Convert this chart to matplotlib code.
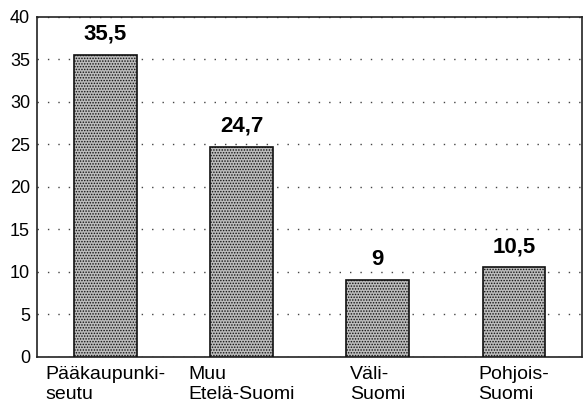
import numpy as np
import matplotlib
matplotlib.use('Agg')
import matplotlib.pyplot as plt

categories = ['Pääkaupunki-\nseutu', 'Muu\nEtelä-Suomi', 'Väli-\nSuomi', 'Pohjois-\nSuomi']
values = [35.5, 24.7, 9, 10.5]
value_labels = ['35,5', '24,7', '9', '10,5']
yticks = [0, 5, 10, 15, 20, 25, 30, 35, 40]

plt.rcParams['font.family'] = ['Liberation Sans', 'DejaVu Sans']
plt.rcParams['hatch.linewidth'] = 0.7
plt.rcParams['hatch.color'] = '#3a3a3a'

fig = plt.figure(figsize=(5.88, 4.07), dpi=100)
ax = fig.add_axes([0.063, 0.124, 0.927, 0.835])

x = np.arange(len(categories))
bars = ax.bar(x, values, width=0.46, facecolor='#bcbcbc', edgecolor='#111111',
              linewidth=1.2, hatch='......', zorder=3)

for xi, v, lab in zip(x, values, value_labels):
    ax.annotate(lab, (xi, v), xytext=(0, 11), textcoords='offset points',
                ha='center', va='baseline', fontsize=16, fontweight='bold')

ax.set_xlim(-0.5, len(categories) - 0.5)
ax.set_ylim(0, 40)
ax.set_yticks(yticks)
ax.set_yticklabels([str(t) for t in yticks], fontsize=13)
ax.set_xticks(x)
ax.set_xticklabels(categories, fontsize=14, ha='center', multialignment='left',
                   linespacing=1.2)
ax.tick_params(axis='y', length=0, pad=5)
ax.tick_params(axis='x', length=0, pad=7)

ax.grid(axis='y', linestyle=(0, (1, 6.5)), color='#444444', linewidth=1.0, zorder=0)
ax.set_axisbelow(True)
for s in ax.spines.values():
    s.set_linewidth(1.2)
    s.set_color('#222222')

fig.savefig('out.png', dpi=100)
